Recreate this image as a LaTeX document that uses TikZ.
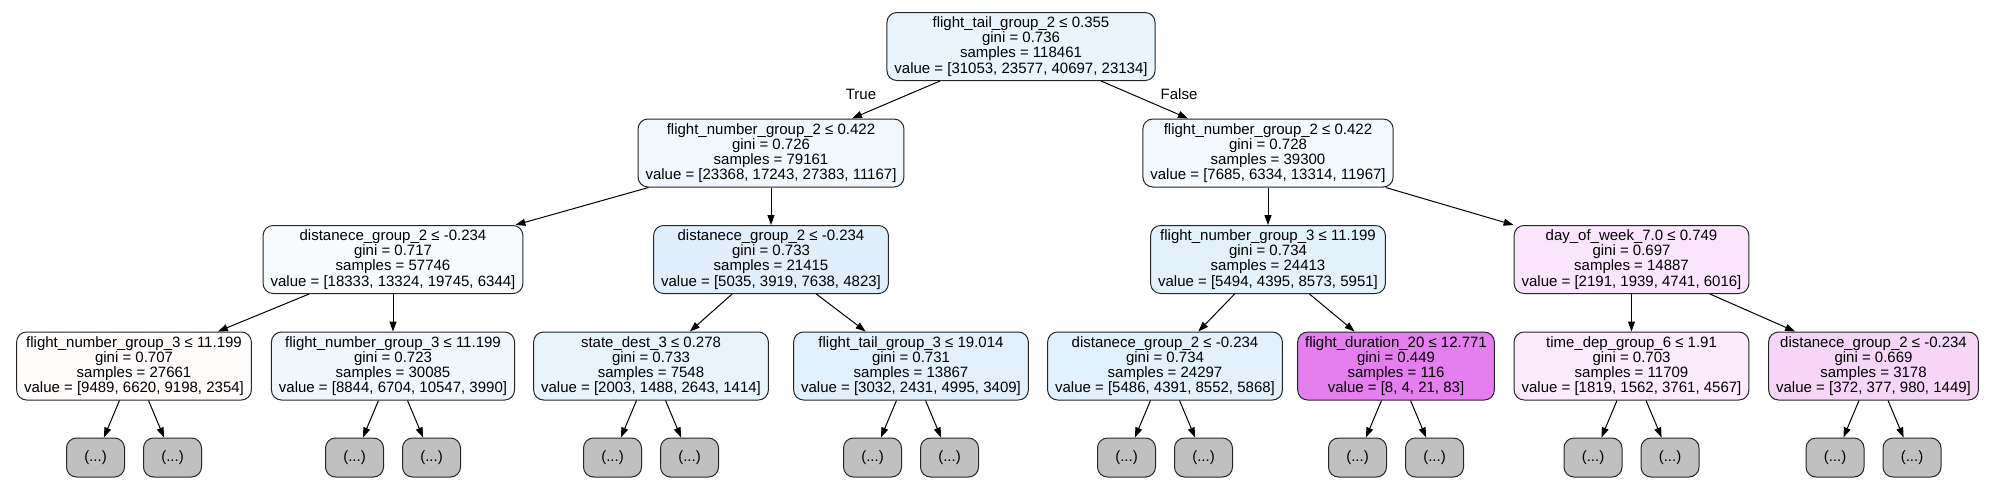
\documentclass[tikz,border=0pt]{standalone}
\usepackage{fontspec}
\setmainfont{Liberation Sans}
\usepackage{tikz}
\usetikzlibrary{arrows.meta}

\definecolor{fillA}{RGB}{233,244,252}
\definecolor{fillB}{RGB}{241,248,253}
\definecolor{fillC}{RGB}{245,250,254}
\definecolor{fillD}{RGB}{248,251,254}
\definecolor{fillE}{RGB}{224,239,251}
\definecolor{fillF}{RGB}{227,241,251}
\definecolor{fillG}{RGB}{250,230,252}
\definecolor{fillH}{RGB}{255,253,252}
\definecolor{fillI}{RGB}{239,247,253}
\definecolor{fillJ}{RGB}{232,244,252}
\definecolor{fillK}{RGB}{225,240,251}
\definecolor{fillL}{RGB}{226,241,251}
\definecolor{fillM}{RGB}{229,126,238}
\definecolor{fillN}{RGB}{251,235,252}
\definecolor{fillO}{RGB}{246,213,249}
\definecolor{leafgray}{RGB}{192,192,192}

\begin{document}
\begin{tikzpicture}[
  x=1pt, y=-1pt,
  split/.style={draw=black!85, line width=1pt, rounded corners=10pt, align=center,
    inner xsep=7.5pt, inner ysep=0pt, minimum height=68pt,
    font=\fontsize{15}{15.2}\selectfont},
  trunc/.style={draw=black!85, line width=1pt, rounded corners=10pt, fill=leafgray,
    minimum width=58pt, minimum height=39pt, inner sep=0pt,
    font=\fontsize{15}{15.2}\selectfont},
  arrow/.style={-{Triangle[length=10pt,width=7pt]}, line width=1pt},
  lbl/.style={font=\fontsize{15}{15}\selectfont}
]
\useasboundingbox (0,0) rectangle (1994,498);
% root and first split
\node[split, fill=fillA] (n0) at (1021,46.5) {flight\_tail\_group\_2 ≤ 0.355\\gini = 0.736\\samples = 118461\\value = [31053, 23577, 40697, 23134]};
\node[split, fill=fillB] (n1) at (771,153) {flight\_number\_group\_2 ≤ 0.422\\gini = 0.726\\samples = 79161\\value = [23368, 17243, 27383, 11167]};
\node[split, fill=fillC] (n2) at (1268,153) {flight\_number\_group\_2 ≤ 0.422\\gini = 0.728\\samples = 39300\\value = [7685, 6334, 13314, 11967]};
\draw[arrow] (n0) -- (n1);
\draw[arrow] (n0) -- (n2);
\node[lbl] (ltrue) at (861,94) {True};
\node[lbl] (lfalse) at (1179,94) {False};
% depth 2
\node[split, fill=fillD] (n3) at (393,259.5) {distanece\_group\_2 ≤ -0.234\\gini = 0.717\\samples = 57746\\value = [18333, 13324, 19745, 6344]};
\node[split, fill=fillE] (n4) at (771,259.5) {distanece\_group\_2 ≤ -0.234\\gini = 0.733\\samples = 21415\\value = [5035, 3919, 7638, 4823]};
\node[split, fill=fillF] (n5) at (1268,259.5) {flight\_number\_group\_3 ≤ 11.199\\gini = 0.734\\samples = 24413\\value = [5494, 4395, 8573, 5951]};
\node[split, fill=fillG] (n6) at (1631.5,259.5) {day\_of\_week\_7.0 ≤ 0.749\\gini = 0.697\\samples = 14887\\value = [2191, 1939, 4741, 6016]};
\draw[arrow] (n1) -- (n3);
\draw[arrow] (n1) -- (n4);
\draw[arrow] (n2) -- (n5);
\draw[arrow] (n2) -- (n6);
% depth 3
\node[split, fill=fillH] (n7) at (134,366) {flight\_number\_group\_3 ≤ 11.199\\gini = 0.707\\samples = 27661\\value = [9489, 6620, 9198, 2354]};
\node[split, fill=fillI] (n8) at (393,366) {flight\_number\_group\_3 ≤ 11.199\\gini = 0.723\\samples = 30085\\value = [8844, 6704, 10547, 3990]};
\node[split, fill=fillJ] (n9) at (651,366) {state\_dest\_3 ≤ 0.278\\gini = 0.733\\samples = 7548\\value = [2003, 1488, 2643, 1414]};
\node[split, fill=fillK] (n10) at (911,366) {flight\_tail\_group\_3 ≤ 19.014\\gini = 0.731\\samples = 13867\\value = [3032, 2431, 4995, 3409]};
\node[split, fill=fillL] (n11) at (1165,366) {distanece\_group\_2 ≤ -0.234\\gini = 0.734\\samples = 24297\\value = [5486, 4391, 8552, 5868]};
\node[split, fill=fillM] (n12) at (1396,366) {flight\_duration\_20 ≤ 12.771\\gini = 0.449\\samples = 116\\value = [8, 4, 21, 83]};
\node[split, fill=fillN] (n13) at (1631.5,366) {time\_dep\_group\_6 ≤ 1.91\\gini = 0.703\\samples = 11709\\value = [1819, 1562, 3761, 4567]};
\node[split, fill=fillO] (n14) at (1873.5,366) {distanece\_group\_2 ≤ -0.234\\gini = 0.669\\samples = 3178\\value = [372, 377, 980, 1449]};
\draw[arrow] (n3) -- (n7);
\draw[arrow] (n3) -- (n8);
\draw[arrow] (n4) -- (n9);
\draw[arrow] (n4) -- (n10);
\draw[arrow] (n5) -- (n11);
\draw[arrow] (n5) -- (n12);
\draw[arrow] (n6) -- (n13);
\draw[arrow] (n6) -- (n14);
% truncated subtrees
\node[trunc] (n7a) at (95.5,457.5) {(...)};
\node[trunc] (n7b) at (172.5,457.5) {(...)};
\node[trunc] (n8a) at (354.5,457.5) {(...)};
\node[trunc] (n8b) at (431.5,457.5) {(...)};
\node[trunc] (n9a) at (612.5,457.5) {(...)};
\node[trunc] (n9b) at (689.5,457.5) {(...)};
\node[trunc] (n10a) at (872.5,457.5) {(...)};
\node[trunc] (n10b) at (949.5,457.5) {(...)};
\node[trunc] (n11a) at (1126.5,457.5) {(...)};
\node[trunc] (n11b) at (1203.5,457.5) {(...)};
\node[trunc] (n12a) at (1357.5,457.5) {(...)};
\node[trunc] (n12b) at (1434.5,457.5) {(...)};
\node[trunc] (n13a) at (1593,457.5) {(...)};
\node[trunc] (n13b) at (1670,457.5) {(...)};
\node[trunc] (n14a) at (1835,457.5) {(...)};
\node[trunc] (n14b) at (1912,457.5) {(...)};
\draw[arrow] (n7) -- (n7a);
\draw[arrow] (n7) -- (n7b);
\draw[arrow] (n8) -- (n8a);
\draw[arrow] (n8) -- (n8b);
\draw[arrow] (n9) -- (n9a);
\draw[arrow] (n9) -- (n9b);
\draw[arrow] (n10) -- (n10a);
\draw[arrow] (n10) -- (n10b);
\draw[arrow] (n11) -- (n11a);
\draw[arrow] (n11) -- (n11b);
\draw[arrow] (n12) -- (n12a);
\draw[arrow] (n12) -- (n12b);
\draw[arrow] (n13) -- (n13a);
\draw[arrow] (n13) -- (n13b);
\draw[arrow] (n14) -- (n14a);
\draw[arrow] (n14) -- (n14b);
\end{tikzpicture}
\end{document}
